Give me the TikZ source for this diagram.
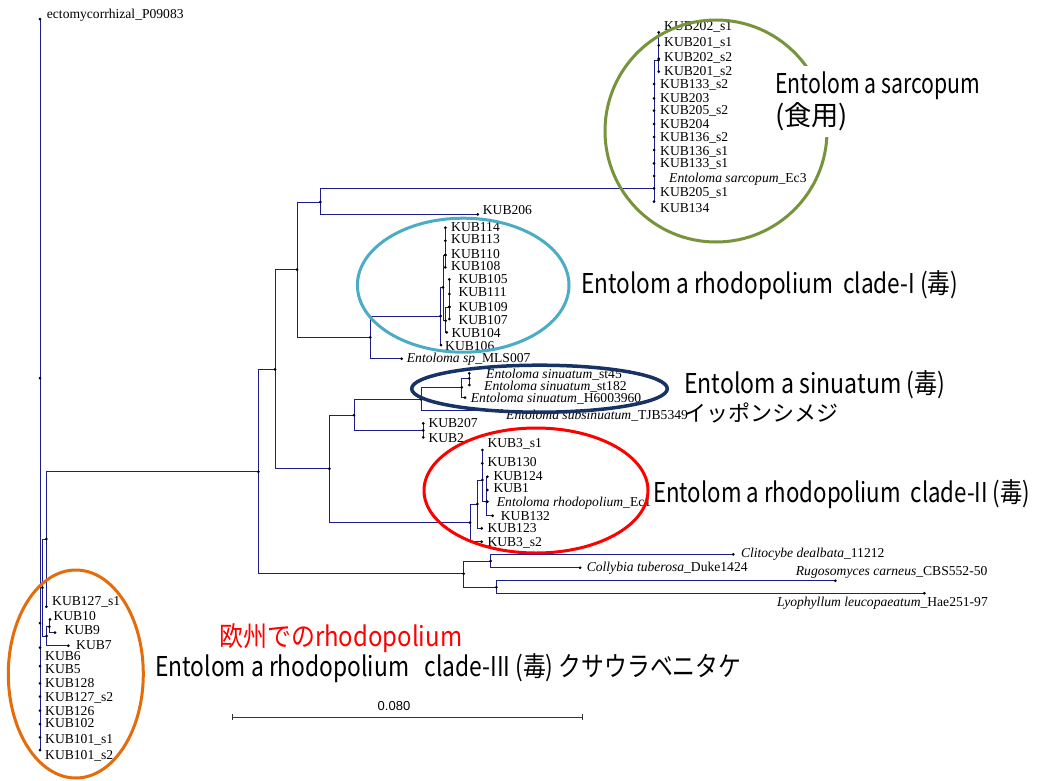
\documentclass[tikz,border=0pt]{standalone}
\usepackage{fontspec}
\usepackage{graphicx}
\setmainfont{Liberation Serif}
\newfontfamily\jp{Noto Sans CJK JP}
\newfontfamily\arialf{Liberation Sans}
\definecolor{branch}{RGB}{28,28,140}
\definecolor{olivering}{RGB}{119,147,60}
\definecolor{tealring}{RGB}{75,172,198}
\definecolor{navyring}{RGB}{23,50,100}
\definecolor{orangering}{RGB}{228,108,10}
\newcommand\fitw[2]{\resizebox{#1pt}{\height}{#2}}
\tikzset{
  br/.style={draw=branch, line width=0.9pt},
  lab/.style={anchor=west, inner sep=0pt, font=\fontsize{13.6}{14}\selectfont, text height=8.8pt, text depth=2.2pt},
  labr/.style={lab, anchor=east},
  big/.style={anchor=west, inner sep=0pt, font=\jp\fontsize{27.3}{32}\selectfont},
  ring/.style={line width=3pt},
}
\begin{document}
\begin{tikzpicture}[x=1pt,y=-1pt]
\useasboundingbox[fill=white] (0,0) rectangle (1037,780);

% ---------- tree points: root and clade III
\coordinate (R) at (40,378);
\coordinate (R2) at (40,623);
\coordinate (ecto) at (40,19);
\coordinate (Q) at (42.3,587.7);
\coordinate (P) at (46.3,539);
\coordinate (k127s1) at (46.3,606.7);
\coordinate (S) at (46.7,636);
\coordinate (T) at (49.3,626.7);
\coordinate (k10) at (50,619.3);
\coordinate (k9) at (55,632.7);
\coordinate (k7) at (68.3,645.7);
\coordinate (k6) at (40,647.7);
\coordinate (k5) at (40,666);
\coordinate (k128) at (40,683.3);
\coordinate (k127s2) at (40,696.7);
\coordinate (k126) at (40,710.7);
\coordinate (k102) at (40,724);
\coordinate (k101s1) at (40,737.3);
\coordinate (k101s2) at (40,750);

% ---------- ingroup backbone
\coordinate (N0) at (258.3,471.7);
\coordinate (G) at (275,369.3);
\coordinate (C1) at (297,269.7);
\coordinate (E) at (320.3,202);
\coordinate (H) at (329.3,468.7);
\coordinate (I) at (354,415);

% ---------- E. sarcopum clade
\coordinate (U) at (654,188.3);
\coordinate (U1) at (658.7,60);
\coordinate (k202s1) at (658.7,32.3);
\coordinate (k201s1) at (658.7,45.3);
\coordinate (k202s2) at (658.7,58.7);
\coordinate (k201s2) at (658.7,71.7);
\coordinate (k133s2) at (654,84);
\coordinate (k203) at (654,98.3);
\coordinate (k205s2) at (654,110.7);
\coordinate (k204) at (654,124);
\coordinate (k136s2) at (654,137);
\coordinate (k136s1) at (654,150);
\coordinate (k133s1) at (654,163.3);
\coordinate (ec3) at (654,176);
\coordinate (k134) at (654,201.7);
\coordinate (k206) at (477.7,214.3);

% ---------- clade I
\coordinate (F) at (370.3,337.3);
\coordinate (mls) at (401.7,358.7);
\coordinate (CI) at (440.7,316);
\coordinate (CIa) at (443,287.3);
\coordinate (B) at (445.3,255);
\coordinate (k114) at (445.3,227.7);
\coordinate (k113) at (445.3,240.7);
\coordinate (k110) at (445.3,255);
\coordinate (k108) at (445.3,267.3);
\coordinate (C) at (445.7,320.7);
\coordinate (D) at (449.3,307);
\coordinate (k105) at (449.3,279.3);
\coordinate (k111) at (449.3,294);
\coordinate (k109) at (449.3,306.7);
\coordinate (k107) at (449.3,319);
\coordinate (k104) at (446.7,332.3);
\coordinate (k106) at (441,345);

% ---------- sinuatum group
\coordinate (SN) at (421,399.3);
\coordinate (sina) at (461.7,387.3);
\coordinate (sinb) at (469.3,378.3);
\coordinate (st45) at (469.3,373.3);
\coordinate (st182) at (469.3,385);
\coordinate (h600) at (465,397.5);
\coordinate (subs) at (501.7,410.3);
\coordinate (K2) at (423.3,430.3);
\coordinate (k207) at (423.3,423.3);
\coordinate (k2) at (423.3,437.3);

% ---------- clade II
\coordinate (c2) at (470,522.7);
\coordinate (c2a) at (477.3,504);
\coordinate (c2b) at (482.3,480);
\coordinate (c2c) at (486.7,501.7);
\coordinate (k3s1) at (482.3,450);
\coordinate (k130) at (482.3,463.3);
\coordinate (k124) at (487.3,476.7);
\coordinate (k1) at (487.3,490);
\coordinate (ec1) at (487.3,501.7);
\coordinate (k132) at (492.7,515.7);
\coordinate (k123) at (481.7,528.3);
\coordinate (k3s2) at (481.7,541.7);

% ---------- outgroup taxa
\coordinate (og) at (463.6,573.7);
\coordinate (og1) at (490.6,561);
\coordinate (og2) at (496.4,587.3);
\coordinate (cli) at (733.2,554.3);
\coordinate (col) at (580.1,567.7);
\coordinate (rug) at (835.3,580.7);
\coordinate (lyo) at (924.4,593.3);

% ---------- branches
\draw[br] (ecto) -- (k101s2);
\draw[br] (R) |- (Q) (Q) |- (P) (Q) |- (S) (P) |- (k127s1) (P) |- (N0)
  (S) |- (T) (S) |- (k7) (T) |- (k10) (T) |- (k9);
\draw[br] (N0) |- (G) (N0) |- (og) (G) |- (C1) (G) |- (H)
  (C1) |- (E) (C1) |- (F) (E) |- (U) (E) |- (k206);
\draw[br] (U) |- (U1) (U) |- (k133s2) (U) |- (k134)
  (U1) |- (k202s1) (U1) |- (k201s2);
\draw[br] (F) |- (CI) (F) |- (mls) (CI) |- (CIa) (CI) |- (k106)
  (CIa) |- (B) (CIa) |- (C) (B) |- (k114) (B) |- (k108)
  (C) |- (D) (C) |- (k104) (D) |- (k105) (D) |- (k107);
\draw[br] (H) |- (I) (H) |- (c2) (I) |- (SN) (I) |- (K2)
  (SN) |- (sina) (SN) |- (subs) (sina) |- (sinb) (sina) |- (h600)
  (sinb) |- (st45) (sinb) |- (st182) (K2) |- (k207) (K2) |- (k2);
\draw[br] (c2) |- (c2a) (c2) |- (k3s2) (c2a) |- (c2b) (c2a) |- (k123)
  (c2b) |- (k3s1) (c2b) |- (c2c) (c2c) |- (k124) (c2c) |- (k132);
\draw[br] (og) |- (og1) (og) |- (og2) (og1) |- (cli) (og1) |- (col)
  (og2) |- (rug) (og2) |- (lyo);

% ---------- node dots
\foreach \n in {R,R2,ecto,Q,P,k127s1,S,T,k10,k9,k7,k6,k5,k128,k127s2,k126,k102,k101s1,k101s2,
  N0,G,C1,E,H,I,U,U1,k202s1,k201s1,k202s2,k201s2,k133s2,k203,k205s2,k204,k136s2,k136s1,k133s1,ec3,k134,k206,
  F,mls,CI,CIa,B,k114,k113,k110,k108,C,D,k105,k111,k109,k107,k104,k106,
  SN,sina,sinb,st45,st182,h600,subs,K2,k207,k2,
  c2,c2a,c2b,c2c,k3s1,k130,k124,k1,ec1,k132,k123,k3s2,
  og,og1,og2,cli,col,rug,lyo}
  \fill (\n) circle (1.5pt);

% ---------- tip labels
\node[lab] (l-ecto) at (46.7,14.7) {ectomycorrhizal\_P09083};
\node[lab] (l-k202s1) at (664,27.3) {KUB202\_s1};
\node[lab] (l-k201s1) at (664,43.3) {KUB201\_s1};
\node[lab] (l-k202s2) at (664,57.7) {KUB202\_s2};
\node[lab] (l-k201s2) at (664,71.7) {KUB201\_s2};
\node[lab] (l-k133s2) at (660,85) {KUB133\_s2};
\node[lab] (l-k203) at (660,99) {KUB203};
\node[lab] (l-k205s2) at (660,111.3) {KUB205\_s2};
\node[lab] (l-k204) at (660,125) {KUB204};
\node[lab] (l-k136s2) at (660,137.7) {KUB136\_s2};
\node[lab] (l-k136s1) at (660,151.7) {KUB136\_s1};
\node[lab] (l-k133s1) at (660,164) {KUB133\_s1};
\node[lab] (l-ec3) at (669,179) {\textit{Entoloma sarcopum}\_Ec3};
\node[lab] (l-k205s1) at (660,192.7) {KUB205\_s1};
\node[lab] (l-k134) at (660,208.7) {KUB134};
\node[lab] (l-k206) at (482.7,210.7) {KUB206};
\node[lab] (l-k114) at (451,228) {KUB114};
\node[lab] (l-k113) at (451,240) {KUB113};
\node[lab] (l-k110) at (451,255.3) {KUB110};
\node[lab] (l-k108) at (451,267.3) {KUB108};
\node[lab] (l-k105) at (458.3,279.7) {KUB105};
\node[lab] (l-k111) at (458.3,293.3) {KUB111};
\node[lab] (l-k109) at (458.3,307.7) {KUB109};
\node[lab] (l-k107) at (458.3,321) {KUB107};
\node[lab] (l-k104) at (451.3,334) {KUB104};
\node[lab] (l-k106) at (445,346.7) {KUB106};
\node[lab] (l-mls) at (406.7,359.3) {\textit{Entoloma sp}\_MLS007};
\node[lab] (l-st45) at (486,375) {\textit{Entoloma sinuatum}\_st45};
\node[lab] (l-st182) at (484,387.3) {\textit{Entoloma sinuatum}\_st182};
\node[lab] (l-h600) at (470.7,399.3) {\textit{Entoloma sinuatum}\_H6003960};
\node[lab] (l-subs) at (506,416) {\textit{Entoloma subsinuatum}\_TJB5349};
\node[lab] (l-k207) at (428.3,424.3) {KUB207};
\node[lab] (l-k2) at (428.3,439) {KUB2};
\node[lab] (l-k3s1) at (487.3,444) {KUB3\_s1};
\node[lab] (l-k130) at (487.3,462.7) {KUB130};
\node[lab] (l-k124) at (493.3,476.7) {KUB124};
\node[lab] (l-k1) at (493.3,489.3) {KUB1};
\node[lab] (l-ec1) at (496.7,503.3) {\textit{Entoloma rhodopolium}\_Ec1};
\node[lab] (l-k132) at (500.7,516.7) {KUB132};
\node[lab] (l-k123) at (487.3,528.7) {KUB123};
\node[lab] (l-k3s2) at (487.3,542.7) {KUB3\_s2};
\node[lab] (l-cli) at (740.8,554.3) {\textit{Clitocybe dealbata}\_11212};
\node[lab] (l-col) at (586.6,567.7) {\textit{Collybia tuberosa}\_Duke1424};
\node[labr] (l-rug) at (987.6,571.7) {\textit{Rugosomyces carneus}\_CBS552-50};
\node[labr] (l-lyo) at (988,602.7) {\textit{Lyophyllum leucopaeatum}\_Hae251-97};
\node[lab] (l-k127s1) at (52,601.7) {KUB127\_s1};
\node[lab] (l-k10) at (53.3,617.3) {KUB10};
\node[lab] (l-k9) at (64.3,631) {KUB9};
\node[lab] (l-k7) at (76,645.7) {KUB7};
\node[lab] (l-k6) at (45,656.7) {KUB6};
\node[lab] (l-k5) at (45,670) {KUB5};
\node[lab] (l-k128) at (45,684.3) {KUB128};
\node[lab] (l-k127s2) at (45,698.3) {KUB127\_s2};
\node[lab] (l-k126) at (45,711.7) {KUB126};
\node[lab] (l-k102) at (45,724) {KUB102};
\node[lab] (l-k101s1) at (45,740) {KUB101\_s1};
\node[lab] (l-k101s2) at (45,756) {KUB101\_s2};

% ---------- clade outlines
\draw[ring, draw=olivering] (716,131) ellipse [x radius=111pt, y radius=111pt];
\draw[ring, draw=tealring] (463.2,285.2) ellipse [x radius=105.8pt, y radius=67pt];
\draw[ring, draw=navyring, line width=3.5pt] (539.5,388.7) ellipse [x radius=127.8pt, y radius=23.5pt];
\draw[ring, draw=red] (536,490.5) ellipse [x radius=112pt, y radius=62.5pt];
\draw[ring, draw=orangering] (75.8,674) ellipse [x radius=67.5pt, y radius=104pt];

% ---------- clade names
\node[big, fill=white, inner xsep=3pt, inner ysep=6pt, align=left] (sarc) at (772,101.5)
  {\fitw{205}{Entolom a sarcopum}\\\fitw{73}{(食用)}};
\node[big] (cladeI) at (581,285) {\fitw{377}{Entolom a rhodopolium\ \ clade-I (毒)}};
\node[big] (sinu) at (684,385) {\fitw{261}{Entolom a sinuatum (毒)}};
\node[big, font=\jp\fontsize{22}{26}\selectfont] (ippon) at (684,413) {イッポンシメジ};
\node[big] (cladeII) at (653,494) {\fitw{377}{Entolom a rhodopolium\ \ clade-II (毒)}};
\node[big, text=red] (euro) at (219,638) {\fitw{243}{欧州でのrhodopolium}};
\node[big] (cladeIII) at (155,668) {\fitw{586}{Entolom a rhodopolium\ \ \ clade-III (毒) クサウラベニタケ}};

% ---------- scale bar
\coordinate (sb1) at (232,717);
\coordinate (sb2) at (582,717);
\draw[line width=0.9pt, draw=black!80] (sb1) -- (sb2)
  (sb1) ++(0,-3) -- ++(0,6) (sb2) ++(0,-3) -- ++(0,6);
\node[inner sep=0pt, font=\arialf\fontsize{13}{14}\selectfont] (sblab) at (394,706) {0.080};
\end{tikzpicture}
\end{document}
